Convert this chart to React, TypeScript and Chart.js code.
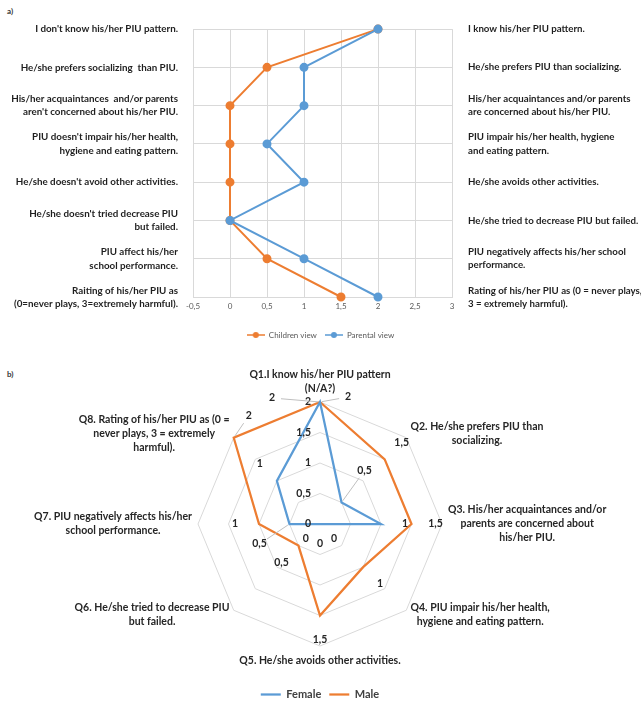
import React, { useEffect, useRef } from 'react';
import { Chart, registerables } from 'chart.js';

Chart.register(...registerables);

const ORANGE = '#ED7D31';
const BLUE = '#5B9BD5';
const FONT = 'Lato, "Open Sans", sans-serif';
const TEXT = '#1f1f1f';
const GRID = '#D9D9D9';

// ---------- Panel a data ----------
const leftLabels: string[][] = [
  ["I don't know his/her PIU pattern."],
  ['He/she prefers socializing  than PIU.'],
  ['His/her acquaintances  and/or parents', "aren't concerned about his/her PIU."],
  ["PIU doesn't impair his/her health,", 'hygiene and eating pattern.'],
  ["He/she doesn't avoid other activities."],
  ["He/she doesn't tried decrease PIU", 'but failed.'],
  ['PIU affect his/her', 'school performance.'],
  ['Raiting of his/her PIU as', '(0=never plays, 3=extremely harmful).'],
];
const rightLabels: string[][] = [
  ['I know his/her PIU pattern.'],
  ['He/she prefers PIU than socializing.'],
  ['His/her acquaintances and/or parents', 'are concerned about his/her PIU.'],
  ['PIU impair his/her health, hygiene', 'and eating pattern.'],
  ['He/she avoids other activities.'],
  ['He/she tried to decrease PIU but failed.'],
  ['PIU negatively affects his/her school', 'performance.'],
  ['Rating of his/her PIU as (0 = never plays,', '3 = extremely harmful).'],
];
const childrenView = [2, 0.5, 0, 0, 0, 0, 0.5, 1.5];
const parentalView = [2, 1, 1, 0.5, 1, 0, 1, 2];
const xMin = -0.5;
const xMax = 3;
const xStep = 0.5;

// ---------- Panel b data ----------
const radarLabels: string[][] = [
  ['Q1.I know his/her PIU pattern', '(N/A?)'],
  ['Q2. He/she prefers PIU than', 'socializing.'],
  ['Q3. His/her acquaintances and/or', 'parents are concerned about', 'his/her PIU.'],
  ['Q4. PIU impair his/her health,', 'hygiene and eating pattern.'],
  ['Q5. He/she avoids other activities.'],
  ['Q6. He/she tried to decrease PIU', 'but failed.'],
  ['Q7. PIU negatively affects his/her', 'school performance.'],
  ['Q8. Rating of his/her PIU as (0 =', 'never plays, 3 = extremely', 'harmful).'],
];
const femaleValues = [2, 0.5, 1, 0, 0, 0, 0.5, 1];
const maleValues = [2, 1.5, 1.5, 1, 1.5, 0.5, 1, 2];
const rMax = 2;
const rStep = 0.5;

const fmt = (v: number) => String(v).replace('.', ',');

function makeMarker(color: string) {
  const c = document.createElement('canvas');
  c.width = 18;
  c.height = 8;
  const g = c.getContext('2d')!;
  g.strokeStyle = color;
  g.lineWidth = 1.5;
  g.beginPath();
  g.moveTo(0, 4);
  g.lineTo(18, 4);
  g.stroke();
  g.fillStyle = color;
  g.beginPath();
  g.arc(9, 4, 3, 0, Math.PI * 2);
  g.fill();
  return c;
}

function PanelA() {
  const ref = useRef<HTMLCanvasElement>(null);
  useEffect(() => {
    const chart = new Chart(ref.current!, {
      type: 'line',
      data: {
        labels: leftLabels as any,
        datasets: [
          {
            label: 'Children view',
            data: childrenView,
            borderColor: ORANGE,
            backgroundColor: ORANGE,
            pointBackgroundColor: ORANGE,
            pointBorderColor: ORANGE,
            borderWidth: 2,
            pointRadius: 3.5,
            order: 2,
          },
          {
            label: 'Parental view',
            data: parentalView,
            borderColor: BLUE,
            backgroundColor: BLUE,
            pointBackgroundColor: BLUE,
            pointBorderColor: BLUE,
            borderWidth: 2,
            pointRadius: 3.5,
            order: 1,
          },
        ],
      },
      options: {
        indexAxis: 'y',
        responsive: false,
        animation: false,
        layout: { padding: { top: 28, left: 0, right: 0, bottom: 0 } },
        scales: {
          x: {
            type: 'linear',
            min: xMin,
            max: xMax,
            ticks: {
              stepSize: xStep,
              padding: 5,
              color: '#595959',
              font: { family: FONT, size: 8 },
              callback: (v: any) => fmt(Number(v)),
            },
            grid: { color: GRID, drawTicks: false },
            border: { color: GRID },
            afterFit: (s: any) => {
              s.height = 26;
            },
          },
          y: {
            type: 'category',
            offset: false,
            position: 'left',
            grid: { color: GRID, drawTicks: false, offset: false },
            border: { color: GRID },
            ticks: {
              autoSkip: false,
              padding: 15,
              color: TEXT,
              font: { family: FONT, size: 9.8, weight: 'bold', lineHeight: 1.35 },
            },
            afterFit: (s: any) => {
              s.width = 193;
            },
          },
          y2: {
            type: 'category',
            labels: rightLabels as any,
            offset: false,
            position: 'right',
            grid: { display: false, drawTicks: false },
            border: { display: false },
            ticks: {
              autoSkip: false,
              padding: 16,
              color: TEXT,
              font: { family: FONT, size: 9.7, weight: 'bold', lineHeight: 1.35 },
            },
            afterFit: (s: any) => {
              s.width = 189;
            },
          },
        },
        plugins: {
          tooltip: { enabled: false },
          legend: {
            position: 'bottom',
            labels: {
              usePointStyle: true,
              pointStyleWidth: 18,
              padding: 8,
              color: '#595959',
              font: { family: FONT, size: 8 },
              generateLabels: (c: any) =>
                c.data.datasets.map((ds: any, i: number) => ({
                  text: ds.label,
                  fillStyle: ds.borderColor,
                  strokeStyle: ds.borderColor,
                  lineWidth: 0,
                  pointStyle: makeMarker(ds.borderColor),
                  datasetIndex: i,
                  hidden: false,
                  fontColor: '#595959',
                })),
            },
          },
        },
      } as any,
    });
    return () => chart.destroy();
  }, []);
  return (
    <canvas
      ref={ref}
      width={641}
      height={349}
      style={{ position: 'absolute', left: 0, top: 0, width: 641, height: 349 }}
    />
  );
}

const radarText = {
  id: 'radarText',
  afterDatasetsDraw(chart: any) {
    const ctx = chart.ctx as CanvasRenderingContext2D;
    const r = chart.scales.r;
    ctx.save();
    // axis tick labels along the first spoke
    ctx.font = `bold 10.5px ${FONT}`;
    ctx.fillStyle = '#262626';
    ctx.textAlign = 'right';
    ctx.textBaseline = 'middle';
    r.ticks.forEach((t: any) => {
      const d = r.getDistanceFromCenterForValue(t.value);
      ctx.fillText(fmt(t.value), r.xCenter - 9, r.yCenter - d);
    });

    // category labels around the web
    const lineH = 14;
    ctx.textAlign = 'center';
    chart.data.labels.forEach((lines: string[], i: number) => {
      const p = r.getPointPosition(i, r.drawingArea + 6);
      const cos = Math.cos(p.angle);
      const sin = Math.sin(p.angle);
      const w = Math.max(...lines.map((l) => ctx.measureText(l).width));
      let cx = p.x;
      if (cos > 0.05) cx = p.x + w / 2;
      else if (cos < -0.05) cx = p.x - w / 2;
      const n = lines.length;
      let y0: number;
      if (sin < -0.95) y0 = p.y - (n - 1) * lineH - lineH / 2;
      else if (sin > 0.95) y0 = p.y + lineH / 2 + 2;
      else y0 = p.y - ((n - 1) * lineH) / 2;
      lines.forEach((l, k) => ctx.fillText(l, cx, y0 + k * lineH));
    });

    // value labels
    const overrides: Record<string, [number, number]> = {
      '0-0': [-48, -4],
      '1-0': [28, -5],
      '1-7': [15, -22],
      '0-1': [23, -32],
      '0-6': [-30, 20],
    };
    chart.data.datasets.forEach((ds: any, di: number) => {
      const meta = chart.getDatasetMeta(di);
      ds.data.forEach((v: number, i: number) => {
        const pt = meta.data[i];
        const ang = r.getIndexAngle(i) - Math.PI / 2;
        const ov = overrides[`${di}-${i}`];
        let lx: number;
        let ly: number;
        if (ov) {
          lx = pt.x + ov[0];
          ly = pt.y + ov[1];
          const dx = pt.x - lx;
          const dy = pt.y - ly;
          const len = Math.hypot(dx, dy);
          ctx.strokeStyle = '#BFBFBF';
          ctx.lineWidth = 1;
          ctx.beginPath();
          ctx.moveTo(lx + (dx / len) * 9, ly + (dy / len) * 9);
          ctx.lineTo(pt.x - (dx / len) * 2, pt.y - (dy / len) * 2);
          ctx.stroke();
        } else {
          const off = v === 0 ? 20 : 24;
          lx = pt.x + Math.cos(ang) * off;
          ly = pt.y + Math.sin(ang) * off;
        }
        ctx.fillStyle = '#262626';
        ctx.fillText(fmt(v), lx, ly);
      });
    });
    ctx.restore();
  },
};

function PanelB() {
  const ref = useRef<HTMLCanvasElement>(null);
  useEffect(() => {
    const chart = new Chart(ref.current!, {
      type: 'radar',
      data: {
        labels: radarLabels as any,
        datasets: [
          {
            label: 'Female',
            data: femaleValues,
            borderColor: BLUE,
            backgroundColor: 'transparent',
            borderWidth: 2.25,
            pointRadius: 0,
            fill: false,
          },
          {
            label: 'Male',
            data: maleValues,
            borderColor: ORANGE,
            backgroundColor: 'transparent',
            borderWidth: 2.25,
            pointRadius: 0,
            fill: false,
          },
        ],
      },
      options: {
        responsive: false,
        animation: false,
        layout: { padding: { left: 198, right: 199, top: 7, bottom: 2 } },
        scales: {
          r: {
            min: 0,
            max: rMax,
            ticks: { stepSize: rStep, display: false },
            grid: { color: GRID, lineWidth: 1 },
            angleLines: { display: false },
            pointLabels: { display: false },
          },
        },
        plugins: {
          tooltip: { enabled: false },
          legend: {
            position: 'bottom',
            labels: {
              usePointStyle: true,
              pointStyle: 'line',
              pointStyleWidth: 20,
              padding: 8,
              color: '#404040',
              font: { family: FONT, size: 11, weight: 'bold' },
            },
          },
        },
      } as any,
      plugins: [radarText],
    });
    return () => chart.destroy();
  }, []);
  return (
    <canvas
      ref={ref}
      width={641}
      height={352}
      style={{ position: 'absolute', left: 0, top: 360, width: 641, height: 352 }}
    />
  );
}

export default function App() {
  return (
    <div
      style={{
        position: 'fixed',
        left: 0,
        top: 0,
        width: 641,
        height: 704,
        overflow: 'hidden',
        background: '#fff',
      }}
    >
      <div style={{ position: 'absolute', left: 7, top: 6, font: `bold 8px ${FONT}`, color: '#333' }}>a)</div>
      <div style={{ position: 'absolute', left: 7, top: 369, font: `bold 8px ${FONT}`, color: '#333' }}>b)</div>
      <PanelA />
      <PanelB />
    </div>
  );
}
